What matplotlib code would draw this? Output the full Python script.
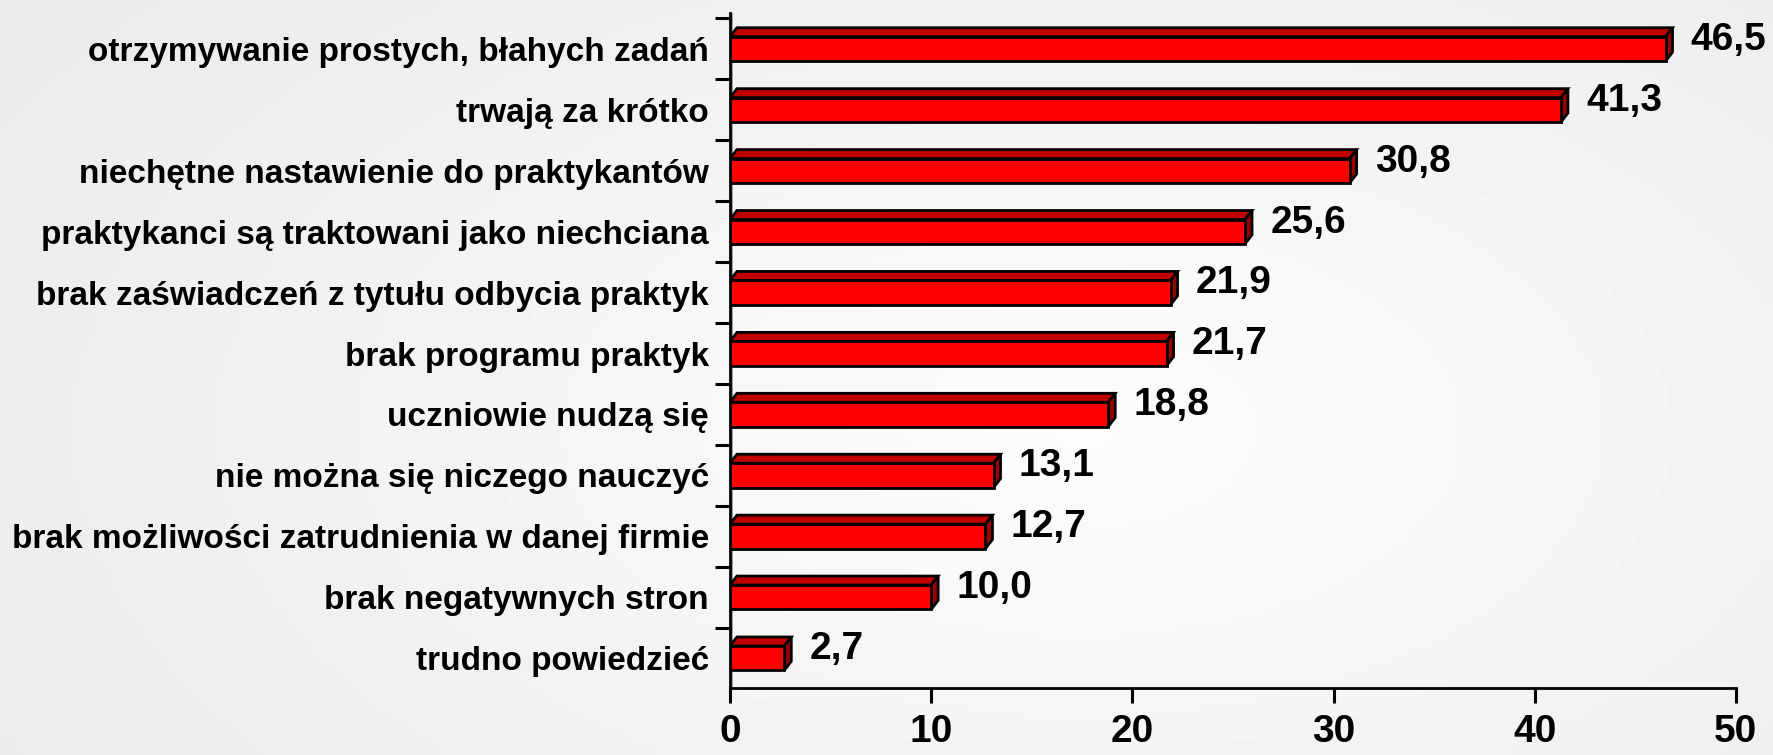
import numpy as np
import matplotlib.pyplot as plt
from matplotlib.patches import Polygon, Rectangle

kategorie = [
    "otrzymywanie prostych, błahych zadań",
    "trwają za krótko",
    "niechętne nastawienie do praktykantów",
    "praktykanci są traktowani jako niechciana",
    "brak zaświadczeń z tytułu odbycia praktyk",
    "brak programu praktyk",
    "uczniowie nudzą się",
    "nie można się niczego nauczyć",
    "brak możliwości zatrudnienia w danej firmie",
    "brak negatywnych stron",
    "trudno powiedzieć",
]
wartosci = [46.5, 41.3, 30.8, 25.6, 21.9, 21.7, 18.8, 13.1, 12.7, 10.0, 2.7]
etykiety = ["46,5", "41,3", "30,8", "25,6", "21,9", "21,7", "18,8", "13,1", "12,7", "10,0", "2,7"]
xticki = [0, 10, 20, 30, 40, 50]

FONT = ["Liberation Sans", "DejaVu Sans"]
plt.rcParams["font.family"] = FONT

fig = plt.figure(figsize=(17.73, 7.55), dpi=100)

# tlo - delikatny gradient
bg = fig.add_axes([0, 0, 1, 1], zorder=-10)
gx, gy = np.meshgrid(np.linspace(-1, 1, 300), np.linspace(-1, 1, 150))
r = np.clip(np.sqrt((gx * 0.9 - 0.2) ** 2 + (gy * 0.7 - 0.1) ** 2), 0, 1.3)
bg.imshow(0.99 - 0.055 * r, cmap="gray", vmin=0, vmax=1, aspect="auto",
          extent=[0, 1, 0, 1])
bg.axis("off")

ax = fig.add_axes([0.4117, 0.0887, 0.5674, 0.8941])
ax.patch.set_alpha(0)

n = len(kategorie)
y = np.arange(n)
h = 0.40
ax.set_xlim(0, 50)
ax.set_ylim(n - 0.51, -0.59)

# przesuniecie 3D w jednostkach danych
px_x = 1006 / 50
px_y = 60.9
dx = 7 / px_x
dy = 9 / px_y

ax.barh(y, wartosci, height=h, color="#ff0000", edgecolor="black",
        linewidth=2, zorder=3)
for yi, v in zip(y, wartosci):
    top = yi - h / 2
    bot = yi + h / 2
    ax.add_patch(Polygon([(0, top), (v, top), (v + dx, top - dy), (dx, top - dy)],
                         closed=True, facecolor="#c00000", edgecolor="black",
                         linewidth=2, zorder=2))
    ax.add_patch(Polygon([(v, top), (v + dx, top - dy), (v + dx, bot - dy), (v, bot)],
                         closed=True, facecolor="#9a0000", edgecolor="black",
                         linewidth=2, zorder=2))

for yi, v, t in zip(y, wartosci, etykiety):
    ax.text(v + 1.25, yi - 0.15, t, fontsize=28, fontweight="bold",
            va="center", ha="left", color="black")

# sciana osi Y
ax.add_patch(Rectangle((0, n - 0.51), 0.15, -(n - 0.51 + 0.59), facecolor="#a0a0a0",
                       edgecolor="none", zorder=1))

ax.spines["top"].set_visible(False)
ax.spines["right"].set_visible(False)
ax.spines["left"].set_linewidth(2)
ax.spines["bottom"].set_linewidth(2)

ax.set_yticks(np.arange(-0.5, n - 0.5, 1.0), minor=True)
ax.set_yticks(y)
ax.set_yticklabels(kategorie, fontsize=24, fontweight="bold")
ax.tick_params(axis="y", which="major", length=0, pad=15)
ax.tick_params(axis="y", which="minor", length=11, width=2.2, direction="out")

ax.set_xticks(xticki)
ax.set_xticklabels([str(t) for t in xticki], fontsize=28, fontweight="bold")
ax.tick_params(axis="x", length=11, width=2.2, direction="out", pad=8)

fig.savefig("out.png", dpi=100)
plt.close(fig)
